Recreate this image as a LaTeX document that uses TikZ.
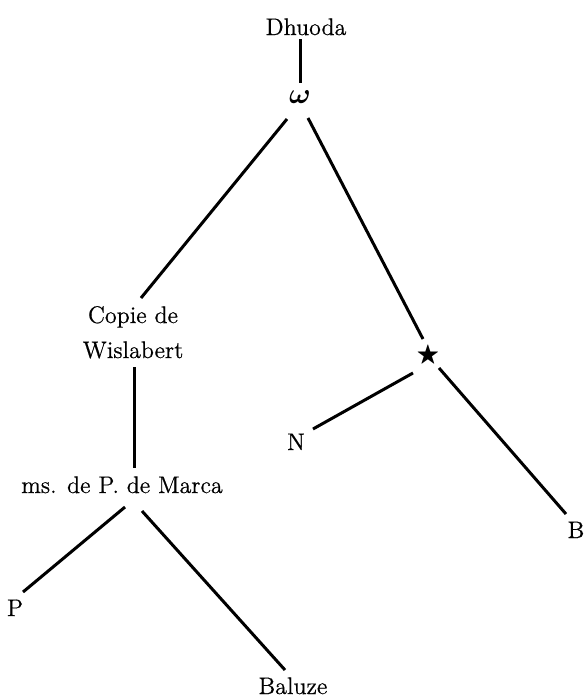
\documentclass[tikz,border=0pt]{standalone}
\usepackage{amsmath,amssymb}
\usepackage{fontspec}
\newfontfamily\heavyfont{Latin Modern Roman}[FakeBold=0.6]
\begin{document}
\begin{tikzpicture}[x=0.5pt,y=-0.5pt,
  lbl/.style={inner sep=0pt,anchor=base,font=\heavyfont\fontsize{12}{14}\selectfont},
  sym/.style={inner sep=0pt,anchor=center},
  edge/.style={line width=1.5pt}]
\useasboundingbox (0,0) rectangle (585,697);
\node[lbl] (dhuoda) at (306,35) {Dhuoda};
\node[sym,font=\fontsize{14}{14}\selectfont] (omega) at (300,97) {$\boldsymbol{\omega}$};
\node[lbl] (copie) at (133,323) {Copie de};
\node[lbl] (wis) at (133,358) {Wislabert};
\node[lbl] (ms) at (122,493) {ms. de P. de Marca};
\node[sym,font=\fontsize{12}{14}\selectfont] (star) at (428,356) {$\bigstar$};
\node[lbl] (N) at (296,450) {N};
\node[lbl] (B) at (576,538) {B};
\node[lbl] (P) at (15,616) {P};
\node[lbl] (baluze) at (293,694) {Baluze};
\draw[edge] ([shift={(-6,4)}]dhuoda.base) -- ([shift={(0,-14)}]omega.center);
\draw[edge] ([shift={(-13,22)}]omega.center) -- ([shift={(8,-25)}]copie.base);
\draw[edge] ([shift={(8,21)}]omega.center) -- ([shift={(-5,-17)}]star.center);
\draw[edge] ([shift={(1,9)}]wis.base) -- ([shift={(12,-25)}]ms.base);
\draw[edge] ([shift={(-15,17)}]star.center) -- ([shift={(17,-21)}]N.base);
\draw[edge] ([shift={(11,12)}]star.center) -- ([shift={(-10,-24)}]B.base);
\draw[edge] ([shift={(3,14)}]ms.base) -- ([shift={(8,-24)}]P.base);
\draw[edge] ([shift={(20,18)}]ms.base) -- ([shift={(-8,-24)}]baluze.base);
\end{tikzpicture}
\end{document}
